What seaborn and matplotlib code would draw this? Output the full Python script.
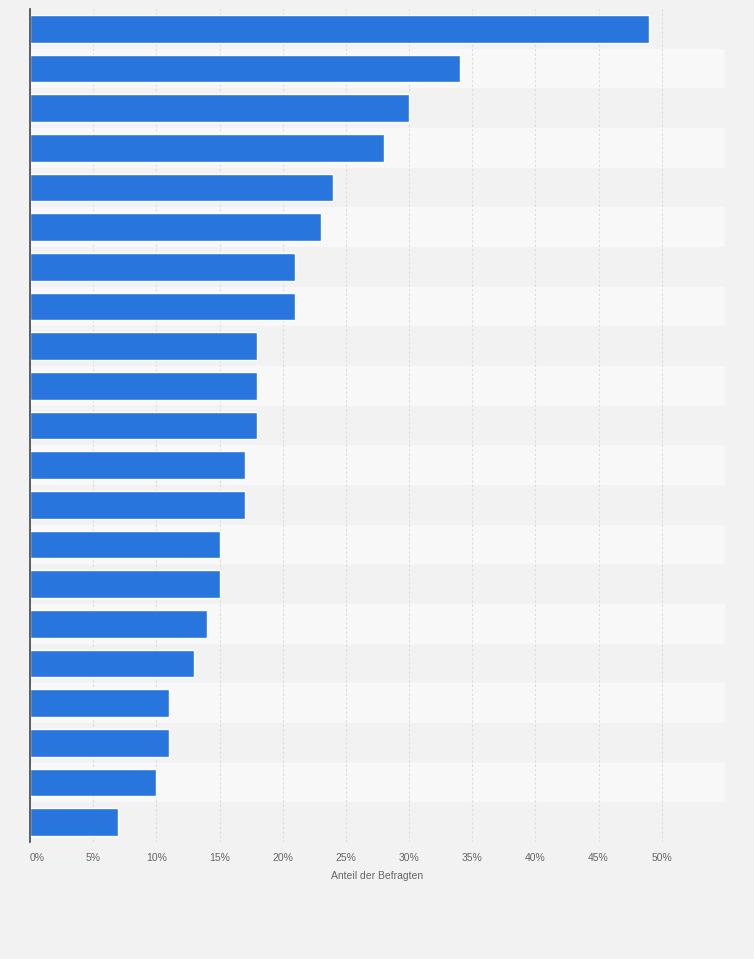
import numpy as np
import pandas as pd
import matplotlib
matplotlib.use("Agg")
import matplotlib.pyplot as plt
import seaborn as sns

# values (share of respondents, %)
categories = ["K%d" % (i + 1) for i in range(21)]
values = [49, 34, 30, 28, 24, 23, 21, 21, 18, 18, 18, 17, 17, 15, 15, 14, 13, 11, 11, 10, 7]
xticks = [0, 5, 10, 15, 20, 25, 30, 35, 40, 45, 50]
xticklabels = ["%d%%" % t for t in xticks]

df = pd.DataFrame({"Kategorie": categories, "Anteil": values})

sns.set_theme(style="white")
plt.rcParams['font.family'] = ['Liberation Sans', 'DejaVu Sans']

fig = plt.figure(figsize=(7.54, 9.59), dpi=100)
fig.patch.set_facecolor("#f2f2f2")
ax = fig.add_axes([0.0398, 0.122, 0.9217, 0.8686])
ax.set_facecolor("#f2f2f2")

# alternating row bands
for i in range(len(categories)):
    if i % 2 == 1:
        ax.axhspan(i - 0.5, i + 0.5, color="#f8f8f8", zorder=0, lw=0)

for t in xticks + [55]:
    ax.axvline(t, color="#dcdcdc", lw=0.8, ls=(0, (2, 2)), zorder=1)

sns.barplot(data=df, x="Anteil", y="Kategorie", orient="h", color="#2876dd",
            saturation=1, width=0.7, ax=ax, zorder=2)

ax.set_xlim(0, 55)
ax.set_ylim(len(categories) - 0.5, -0.5)
ax.set_xticks(xticks)
ax.set_xticklabels(xticklabels, fontsize=7.5, color="#666666")
ax.get_xticklabels()[0].set_ha("left")
ax.tick_params(axis="x", length=0, pad=8)
ax.set_yticks([])
ax.set_ylabel("")
ax.set_xlabel("Anteil der Befragten", fontsize=7.5, color="#666666", labelpad=6)

for s in ["top", "right", "bottom"]:
    ax.spines[s].set_visible(False)
ax.spines["left"].set_color("#444444")
ax.spines["left"].set_linewidth(1.2)

fig.savefig("out.png", dpi=100, facecolor=fig.get_facecolor())
